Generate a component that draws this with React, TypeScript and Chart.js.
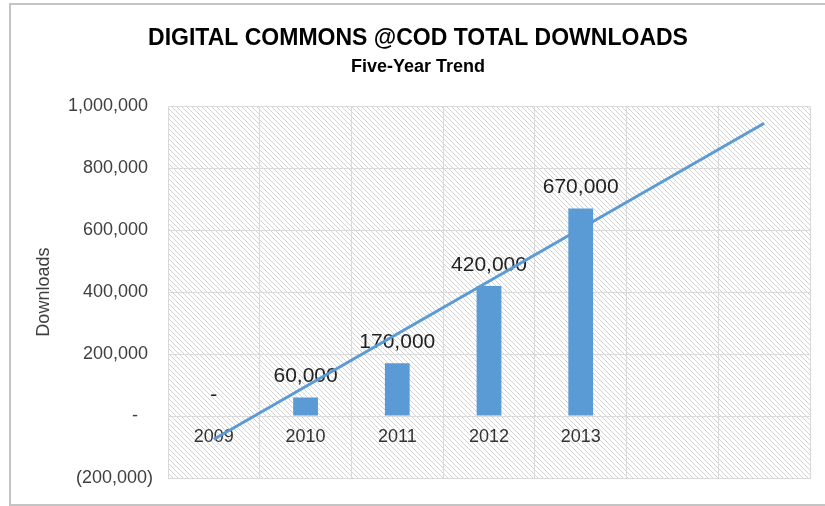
import React, { useEffect, useRef } from 'react';
import { Chart, registerables } from 'chart.js';

Chart.register(...registerables);

const chartTitle = 'DIGITAL COMMONS @COD TOTAL DOWNLOADS';
const chartSubtitle = 'Five-Year Trend';
const yAxisTitle = 'Downloads';

const categories = ['2009', '2010', '2011', '2012', '2013', '', ''];
const downloads = [0, 60000, 170000, 420000, 670000, null, null];
const downloadLabels = ['-', '60,000', '170,000', '420,000', '670,000', '', ''];
// linear trend line, read at its two ends
const trendLine = [-75000, null, null, null, null, null, 945000];

const yMin = -200000;
const yMax = 1000000;
const yStep = 200000;

const FONT = "'Liberation Sans', Arial, Helvetica, sans-serif";
const BLUE = '#5B9BD5';
const GRID = '#d9d9d9';

function fmtTick(v: number): string {
  if (v === 0) return '-   ';
  if (v < 0) return '(' + Math.abs(v).toLocaleString('en-US') + ')';
  return v.toLocaleString('en-US') + ' ';
}

export default function App() {
  const ref = useRef<HTMLCanvasElement | null>(null);

  useEffect(() => {
    const canvas = ref.current;
    if (!canvas) return;

    const pc = document.createElement('canvas');
    pc.width = 5;
    pc.height = 5;
    const p = pc.getContext('2d')!;
    p.fillStyle = '#ffffff';
    p.fillRect(0, 0, 5, 5);
    p.strokeStyle = '#d3d3d3';
    p.lineWidth = 1;
    p.beginPath();
    p.moveTo(-1, -1);
    p.lineTo(6, 6);
    p.moveTo(-1, 4);
    p.lineTo(1, 6);
    p.moveTo(4, -1);
    p.lineTo(6, 1);
    p.stroke();

    const bgPlugin = {
      id: 'bgPlugin',
      beforeDraw(chart: any) {
        const { ctx, chartArea } = chart;
        ctx.save();
        ctx.fillStyle = '#ffffff';
        ctx.fillRect(0, 0, chart.width, chart.height);
        const pat = ctx.createPattern(pc, 'repeat');
        ctx.fillStyle = pat;
        ctx.fillRect(chartArea.left, chartArea.top, chartArea.right - chartArea.left, chartArea.bottom - chartArea.top);
        // outer frame
        ctx.strokeStyle = '#c4c4c4';
        ctx.lineWidth = 2;
        ctx.beginPath();
        ctx.moveTo(chart.width, 4);
        ctx.lineTo(10, 4);
        ctx.lineTo(10, 505);
        ctx.lineTo(chart.width, 505);
        ctx.stroke();
        ctx.restore();
      },
    };

    const textPlugin = {
      id: 'textPlugin',
      beforeDatasetsDraw(chart: any) {
        const { ctx } = chart;
        const xs = chart.scales.x;
        const ys = chart.scales.y;
        const zeroY = ys.getPixelForValue(0);
        ctx.save();
        ctx.textAlign = 'center';
        ctx.textBaseline = 'middle';
        ctx.fillStyle = '#333333';
        ctx.font = `18px ${FONT}`;
        categories.forEach((c, i) => {
          if (c) ctx.fillText(c, xs.getPixelForValue(i), zeroY + 21);
        });
        ctx.textBaseline = 'alphabetic';
        ctx.fillStyle = '#222222';
        ctx.font = `21px ${FONT}`;
        downloads.forEach((v, i) => {
          if (v === null || !downloadLabels[i]) return;
          const top = ys.getPixelForValue(v);
          ctx.fillText(downloadLabels[i], xs.getPixelForValue(i), top - 15);
        });
        ctx.restore();
      },
    };

    const chart = new Chart(canvas, {
      type: 'bar',
      data: {
        labels: categories,
        datasets: [
          {
            type: 'bar',
            label: 'Downloads',
            data: downloads as any,
            backgroundColor: BLUE,
            borderWidth: 0,
            barPercentage: 0.27,
            categoryPercentage: 1,
            order: 1,
          },
          {
            type: 'line',
            label: 'Trend',
            data: trendLine as any,
            borderColor: BLUE,
            borderWidth: 3,
            pointRadius: 0,
            spanGaps: true,
            fill: false,
            order: 0,
          } as any,
        ],
      },
      options: {
        responsive: false,
        animation: false,
        layout: { padding: { left: 26, right: 15, top: 0, bottom: 28 } },
        plugins: {
          legend: { display: false },
          tooltip: { enabled: false },
          title: {
            display: true,
            text: chartTitle,
            color: '#000000',
            font: { family: FONT, size: 23, weight: 'bold' },
            padding: { top: 25, bottom: 4 },
          },
          subtitle: {
            display: true,
            text: chartSubtitle,
            color: '#000000',
            font: { family: FONT, size: 18, weight: 'bold' },
            padding: { top: 0, bottom: 28 },
          },
        },
        scales: {
          x: {
            type: 'category',
            offset: true,
            grid: { color: GRID, lineWidth: 1, offset: true, drawTicks: false },
            border: { color: GRID },
            ticks: { display: false },
            afterFit: (s: any) => {
              s.height = 0;
            },
          },
          y: {
            min: yMin,
            max: yMax,
            grid: { color: GRID, lineWidth: 1, drawTicks: false },
            border: { color: GRID },
            ticks: {
              stepSize: yStep,
              padding: 15,
              color: '#404040',
              font: { family: FONT, size: 18 },
              callback: (v: any) => fmtTick(Number(v)),
            },
            title: {
              display: true,
              text: yAxisTitle,
              color: '#404040',
              font: { family: FONT, size: 18 },
              padding: { top: 7, bottom: 0 },
            },
            afterFit: (s: any) => {
              s.width = 142;
            },
          },
        },
      } as any,
      plugins: [bgPlugin, textPlugin],
    });

    return () => chart.destroy();
  }, []);

  return (
    <div style={{ position: 'fixed', left: 0, top: 0, width: 825, height: 506 }}>
      <canvas ref={ref} width={825} height={506} style={{ display: 'block', width: 825, height: 506 }} />
    </div>
  );
}
